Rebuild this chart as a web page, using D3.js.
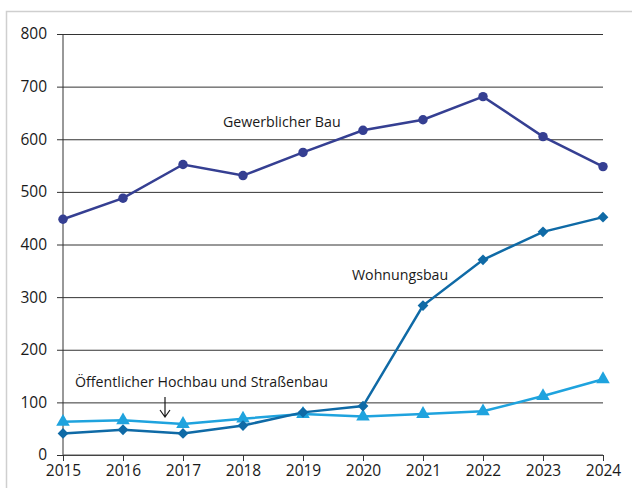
<!DOCTYPE html>
<html lang="de">
<head>
<meta charset="UTF-8">
<title>Baugewerbe</title>
<style>
    body { margin: 0; background: #fff; }
    svg { display: block; font-family: "Open Sans", sans-serif; }
</style>
</head>
<body>
<div id="chart"></div>
<script src="https://cdn.jsdelivr.net/npm/d3@7"></script>
<script>
"use strict";

// Jahre (x-Achse)
var years = [2015, 2016, 2017, 2018, 2019, 2020, 2021, 2022, 2023, 2024];

// Reihen
var gewerblich = [448, 488, 552, 531, 575, 617, 637, 681, 605, 548];
var wohnungsbau = [41, 48, 41, 56, 81, 93, 284, 371, 424, 452];
var oeffentlich = [63, 66, 59, 69, 78, 73, 78, 83, 112, 144];

var yTicks = [0, 100, 200, 300, 400, 500, 600, 700, 800];

(function() {

    var width = 632,
        height = 488,
        margin = { top: 34, right: 29, bottom: 33, left: 63 };

    var svg = d3.select('#chart')
        .append('svg')
        .attr('width', width)
        .attr('height', height);

    // light frame
    svg.append('rect')
        .attr('x', 6.5)
        .attr('y', 11.5)
        .attr('width', 640)
        .attr('height', 500)
        .attr('fill', 'none')
        .attr('stroke', '#cfcfcf')
        .attr('stroke-width', 1.5);

    var x = d3.scalePoint()
        .domain(years)
        .range([margin.left, width - margin.right]);

    var y = d3.scaleLinear()
        .domain([0, 800])
        .range([height - margin.bottom, margin.top]);

    // gridlines + y axis
    var yAxis = d3.axisLeft(y)
        .tickValues(yTicks)
        .tickSize(-(width - margin.right - margin.left))
        .tickPadding(10);

    var gy = svg.append('g')
        .attr('transform', 'translate(' + margin.left + ',0)')
        .call(yAxis);

    gy.select('.domain').remove();
    gy.selectAll('.tick line')
        .attr('x1', -6)
        .attr('stroke', '#333')
        .attr('stroke-width', 1);
    gy.selectAll('.tick text')
        .attr('x', -16)
        .style('font-size', '15.5px')
        .style('font-family', '"Open Sans", sans-serif')
        .attr('fill', '#1a1a1a');

    // y axis line
    svg.append('line')
        .attr('x1', margin.left).attr('x2', margin.left)
        .attr('y1', y(800)).attr('y2', y(0))
        .attr('stroke', '#333');

    // x axis
    var xAxis = d3.axisBottom(x)
        .tickSize(6)
        .tickPadding(4);

    var gx = svg.append('g')
        .attr('transform', 'translate(0,' + y(0) + ')')
        .call(xAxis);

    gx.select('.domain')
        .attr('d', 'M' + margin.left + ',0H' + (width - margin.right))
        .attr('stroke', '#555');
    gx.selectAll('.tick line').attr('stroke', '#333');
    gx.selectAll('.tick text')
        .style('font-size', '15.5px')
        .style('font-family', '"Open Sans", sans-serif')
        .attr('fill', '#1a1a1a');

    var line = d3.line()
        .x(function(d, i) { return x(years[i]); })
        .y(function(d) { return y(d); });

    function drawSeries(values, color, symbol, size, rot) {
        svg.append('path')
            .datum(values)
            .attr('d', line)
            .attr('fill', 'none')
            .attr('stroke', color)
            .attr('stroke-width', 2.5);

        svg.append('g')
            .selectAll('path')
            .data(values)
            .enter()
            .append('path')
            .attr('d', d3.symbol().type(symbol).size(size))
            .attr('transform', function(d, i) {
                return 'translate(' + x(years[i]) + ',' + y(d) + ') rotate(' + rot + ')';
            })
            .attr('fill', color);
    }

    drawSeries(oeffentlich, '#1fa3de', d3.symbolTriangle, 80, 0);
    drawSeries(wohnungsbau, '#0f6aa6', d3.symbolSquare, 58, 45);
    drawSeries(gewerblich, '#353f92', d3.symbolCircle, 70, 0);

    // labels
    var labels = [
        { text: 'Gewerblicher Bau', x: 223, y: 127 },
        { text: 'Wohnungsbau', x: 352, y: 280 },
        { text: 'Öffentlicher Hochbau und Straßenbau', x: 75, y: 387 }
    ];

    svg.selectAll('text.lbl')
        .data(labels)
        .enter()
        .append('text')
        .attr('class', 'lbl')
        .attr('x', function(d) { return d.x; })
        .attr('y', function(d) { return d.y; })
        .style('font-size', '14.2px')
        .attr('fill', '#1a1a1a')
        .text(function(d) { return d.text; });

    // arrow
    var ax = 165;
    svg.append('path')
        .attr('d', 'M' + ax + ',397V417M' + (ax - 5) + ',410L' + ax + ',417L' + (ax + 5) + ',410')
        .attr('fill', 'none')
        .attr('stroke', '#1a1a1a')
        .attr('stroke-width', 1.2);

})();
</script>
</body>
</html>
